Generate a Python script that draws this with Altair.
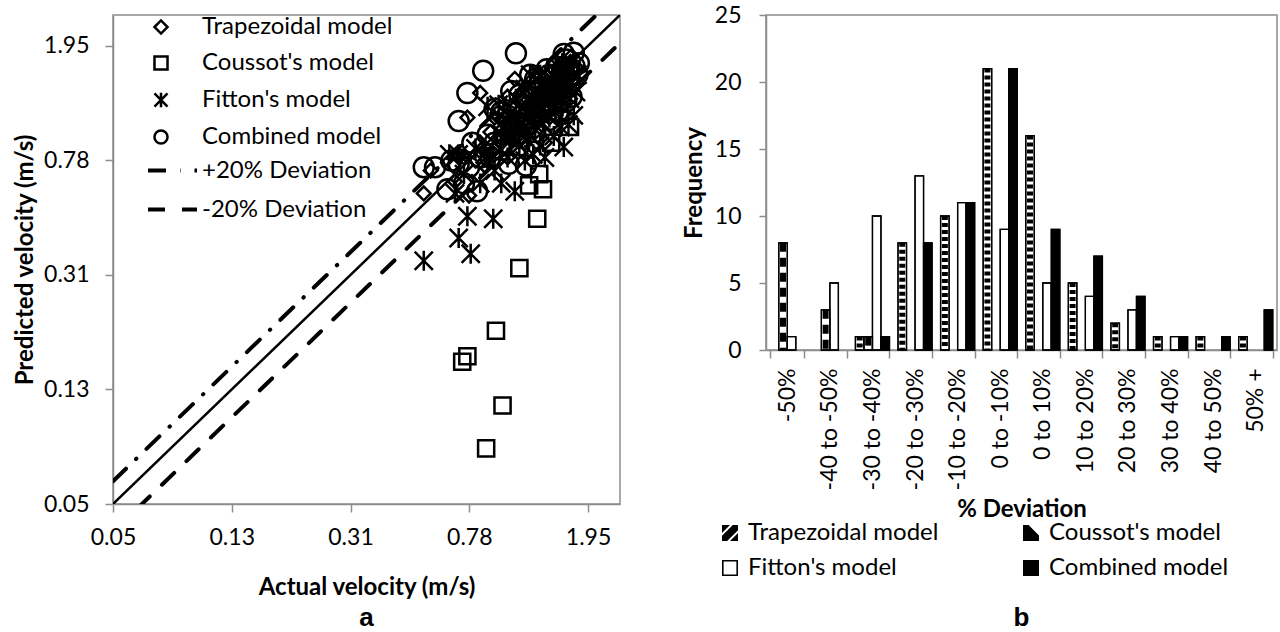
import altair as alt
import pandas as pd

FONT = "Lato"
GRAY = "#8c8c8c"

models = ["Trapezoidal model", "Coussot's model", "Fitton's model", "Combined model"]
marker_sizes = [190, 400, 170, 250]

# ---------------- panel a : (actual, predicted) velocity pairs ----------------
trap_points = [
    (1.40, 0.90),
    (0.78, 0.59), (1.30, 0.98), (1.52, 1.12), (1.60, 1.20), (1.20, 0.90), (1.45, 1.10), (1.70, 1.28), (1.05, 0.80),
    (0.95, 0.82), (1.10, 0.95), (1.25, 1.05), (1.35, 1.15), (1.48, 1.25), (1.55, 1.35), (1.65, 1.42), (1.75, 1.50),
    (0.88, 0.75), (1.18, 1.00),
    (0.70, 0.66), (0.82, 0.78), (0.90, 0.85), (0.98, 0.92), (1.02, 0.97), (1.08, 1.00), (1.12, 1.05), (1.15, 1.10),
    (1.22, 1.15), (1.28, 1.20), (1.32, 1.25), (1.38, 1.30), (1.42, 1.35), (1.50, 1.40), (1.55, 1.45), (1.60, 1.50),
    (1.68, 1.58), (1.72, 1.62), (1.78, 1.65), (1.25, 1.18), (1.45, 1.38),
    (0.55, 0.60), (0.69, 0.75), (0.75, 0.80), (0.85, 0.90), (0.92, 0.98), (1.00, 1.08), (1.05, 1.12), (1.10, 1.18),
    (1.18, 1.25), (1.25, 1.35), (1.30, 1.40), (1.40, 1.50), (1.48, 1.58), (1.55, 1.65), (1.62, 1.72), (1.72, 1.80),
    (0.72, 0.82), (0.95, 1.10), (1.15, 1.32), (1.35, 1.55), (1.50, 1.70),
    (0.58, 0.72), (1.05, 1.30),
    (1.11, 1.50),
    (0.77, 1.10),
    (0.85, 1.34),
]
coussot_points = [
    (1.32, 0.49), (1.15, 0.33), (0.96, 0.20), (0.77, 0.163), (0.74, 0.156), (1.01, 0.11),
    (0.89, 0.078), (1.34, 0.70), (1.38, 0.62), (1.24, 0.64), (1.70, 1.02), (1.47, 0.90),
]
fitton_points = [
    (0.79, 0.37),
    (0.72, 0.42), (0.94, 0.49), (1.11, 0.61), (1.62, 0.87), (1.40, 0.80),
    (0.55, 0.35), (0.77, 0.50), (1.68, 1.04), (1.20, 0.78), (1.35, 0.88), (1.50, 0.95), (1.00, 0.65), (1.28, 0.82),
    (1.58, 1.02), (1.75, 1.12),
    (0.85, 0.65), (1.05, 0.80), (1.15, 0.88), (1.22, 0.92), (1.30, 1.00), (1.38, 1.05), (1.45, 1.10), (1.52, 1.15),
    (1.60, 1.20), (1.70, 1.28), (1.78, 1.35), (0.95, 0.72), (1.25, 0.95),
    (0.70, 0.60), (0.90, 0.78), (1.00, 0.85), (1.10, 0.95), (1.18, 1.00), (1.28, 1.10), (1.35, 1.15), (1.45, 1.25),
    (1.55, 1.32), (1.65, 1.40), (1.80, 1.55),
    (0.75, 0.70), (0.88, 0.82), (1.02, 0.95), (1.15, 1.08), (1.25, 1.18), (1.40, 1.30), (1.50, 1.40), (1.62, 1.52),
    (1.72, 1.60),
    (0.82, 0.86), (1.05, 1.12), (1.30, 1.38), (1.48, 1.55), (1.60, 1.70),
    (0.72, 0.82), (1.12, 1.28), (1.35, 1.55), (1.20, 1.38),
    (0.67, 0.82), (0.98, 1.22), (1.25, 1.55),
    (0.90, 1.20),
]
combined_points = [
    (1.21, 0.75),
    (0.83, 0.61), (1.06, 0.76), (1.30, 0.98), (1.45, 1.08), (1.55, 1.15), (1.65, 1.25), (1.15, 0.88), (1.72, 1.30),
    (0.75, 0.65), (0.92, 0.80), (1.00, 0.85), (1.12, 0.95), (1.20, 1.02), (1.32, 1.12), (1.40, 1.20), (1.50, 1.28),
    (1.60, 1.38), (1.70, 1.45), (1.80, 1.55),
    (0.66, 0.62), (0.78, 0.74), (0.85, 0.80), (0.95, 0.90), (1.02, 0.96), (1.08, 1.02), (1.14, 1.06), (1.18, 1.12),
    (1.24, 1.16), (1.30, 1.22), (1.35, 1.28), (1.40, 1.32), (1.46, 1.36), (1.52, 1.42), (1.58, 1.50), (1.64, 1.54),
    (1.70, 1.60), (1.76, 1.66), (1.82, 1.70), (1.28, 1.20), (1.48, 1.40),
    (0.72, 0.76), (0.90, 0.96), (1.05, 1.12), (1.22, 1.30), (1.35, 1.45), (1.45, 1.55), (1.55, 1.65), (1.65, 1.75),
    (1.75, 1.85),
    (1.62, 1.83), (0.80, 0.90), (1.00, 1.15), (1.15, 1.32), (1.30, 1.50), (1.42, 1.62), (0.68, 0.78),
    (0.60, 0.74), (0.95, 1.18), (1.25, 1.55), (1.08, 1.36),
    (0.55, 0.74),
    (0.72, 1.07),
    (1.12, 1.84), (0.87, 1.60), (0.77, 1.34),
]

vel_ticks = [0.05, 0.125, 0.3125, 0.78125, 1.953125]
vel_domain = [0.05, 2.5]
ref_names = ["1:1 line", "+20% Deviation", "-20% Deviation"]
ref_factors = [1.0, 1.2, 0.8]
ref_x = [0.05, 2.5]

# ---------------- panel b : frequency of % deviation ----------------
cats = ["-50%", "-40 to -50%", "-30 to -40%", "-20 to -30%", "-10 to -20%", "0 to -10%",
        "0 to 10%", "10 to 20%", "20 to 30%", "30 to 40%", "40 to 50%", "50% +"]
trap_freq = [0, 0, 1, 8, 10, 21, 16, 5, 2, 1, 1, 1]
coussot_freq = [8, 3, 1, 0, 0, 0, 0, 0, 0, 0, 0, 0]
fitton_freq = [1, 5, 10, 13, 11, 9, 5, 4, 3, 1, 0, 0]
combined_freq = [0, 0, 1, 8, 11, 21, 9, 7, 4, 1, 1, 3]
freq_ticks = [0, 5, 10, 15, 20, 25]

# ---------------- tables ----------------
size_keys = ["size " + m for m in models]
rows = []
for m, sk, pts in zip(models, size_keys, [trap_points, coussot_points, fitton_points, combined_points]):
    for a, p in pts:
        rows.append({"model": m, "msize": sk, "actual": a, "predicted": p})
scatter_df = pd.DataFrame(rows)

ref_rows = []
for n, f in zip(ref_names, ref_factors):
    for xv in ref_x:
        ref_rows.append({"line": n, "factor": f, "actual": xv})
ref_df = pd.DataFrame(ref_rows)

bar_rows = []
for m, vals in zip(models, [trap_freq, coussot_freq, fitton_freq, combined_freq]):
    for c, v in zip(cats, vals):
        bar_rows.append({"cat": c, "model": m, "freq": v})
bar_df = pd.DataFrame(bar_rows)

axis_common = dict(
    labelFont=FONT, labelFontSize=23, labelColor="black", labelFlush=False,
    titleFont=FONT, titleFontSize=24, titleFontWeight="bold", titleColor="black",
    domainColor=GRAY, tickColor=GRAY, domainWidth=1.5, tickWidth=1.5, tickSize=8, grid=False,
)

vscale = alt.Scale(type="log", base=2.5, domain=vel_domain, nice=False)


def xenc():
    return alt.X("actual:Q", scale=vscale, title="Actual velocity (m/s)",
                 axis=alt.Axis(values=vel_ticks, format=".2f", labelPadding=14, titlePadding=26, **axis_common))


def yenc():
    return alt.Y("predicted:Q", scale=vscale, title="Predicted velocity (m/s)",
                 axis=alt.Axis(values=vel_ticks, format=".2f", labelPadding=16, titlePadding=6, **axis_common))


FITTON_PATH = "M-1,-1L1,1M-1,1L1,-1M0,-1.1L0,1.1"

line_base = alt.Chart(ref_df).transform_calculate(predicted="datum.actual * datum.factor")

diag = line_base.transform_filter("datum.line === '1:1 line'").mark_line(
    color="black", strokeWidth=2.5, clip=True
).encode(x=xenc(), y=yenc())

dev_lines = line_base.transform_filter("datum.line !== '1:1 line'").mark_line(
    color="black", strokeWidth=4, clip=True, strokeCap="round"
).encode(
    x=xenc(), y=yenc(),
    strokeDash=alt.StrokeDash(
        "line:N",
        scale=alt.Scale(domain=["+20% Deviation", "-20% Deviation"], range=[[18, 14, 0.5, 14], [17, 17]]),
        legend=alt.Legend(title=None, orient="none", legendX=33, legendY=129, padding=0,
                          labelFont=FONT, labelFontSize=24, labelColor="black", labelLimit=400,
                          symbolType="stroke", symbolSize=2401, symbolStrokeWidth=4,
                          symbolStrokeColor="black", labelOffset=3, rowPadding=-21),
    ),
)

points = alt.Chart(scatter_df).mark_point(filled=False, strokeWidth=2.5, color="black", opacity=1).encode(
    x=xenc(), y=yenc(),
    shape=alt.Shape(
        "model:N",
        scale=alt.Scale(domain=models, range=["diamond", "square", FITTON_PATH, "circle"]),
        legend=alt.Legend(title=None, orient="none", legendX=36, legendY=0, padding=0,
                          labelFont=FONT, labelFontSize=24, labelColor="black", labelLimit=400,
                          symbolSize=170, symbolStrokeWidth=2.5, symbolStrokeColor="black",
                          symbolFillColor="white", labelOffset=29, rowPadding=12),
    ),
    size=alt.Size("msize:N", scale=alt.Scale(domain=size_keys, range=marker_sizes), legend=None),
)

left = alt.layer(diag, dev_lines, points).properties(
    width=507, height=489,
    title=alt.TitleParams("a", orient="bottom", font="Liberation Sans", fontSize=26, fontWeight="bold",
                          color="black", frame="group", anchor="middle", offset=6),
)

# ---------------- right panel ----------------
T_PATH = ("M-1,-1L1,-1L1,1L-1,1Z"
          "M-1,0L-1,0.35L0.35,-1L0,-1Z"
          "M-0.35,1L0,1L1,0L1,-0.35Z")
C_PATH = "M-1,-1L1,-1L1,1L-1,1Z M-0.3,-1L1,0.3L1,-1Z"
F_PATH = "M-1,-1L1,-1L1,1L-1,1Z M-0.8,-0.8L-0.8,0.8L0.8,0.8L0.8,-0.8Z"

bar_base = alt.Chart(bar_df).transform_filter("datum.freq > 0").transform_calculate(zero="0")

xb = alt.X("cat:N", sort=cats, title="% Deviation",
           scale=alt.Scale(domain=cats, paddingInner=0.2, paddingOuter=0.1),
           axis=alt.Axis(labelAngle=-90, tickBand="extent", labelPadding=10, titlePadding=8,
                         labelLimit=300, **axis_common))
xo = alt.XOffset("model:N", sort=models, scale=alt.Scale(domain=models, paddingInner=0, paddingOuter=0))
yb = alt.Y("freq:Q", title="Frequency", scale=alt.Scale(domain=[0, 25], nice=False),
           axis=alt.Axis(values=freq_ticks, labelPadding=18, titlePadding=8, **{**axis_common, "tickSize": 7}))

bars = bar_base.mark_bar(stroke="black", strokeWidth=1.3).encode(
    x=xb, xOffset=xo, y=yb,
    fill=alt.condition("datum.model === 'Combined model'", alt.value("black"), alt.value("white")),
)

hatch_t = bar_base.transform_filter("datum.model === 'Trapezoidal model'").mark_rule(
    color="black", strokeWidth=6, strokeDash=[4, 3]
).encode(x=xb, xOffset=xo, y=yb, y2="zero:Q")

hatch_c = bar_base.transform_filter("datum.model === \"Coussot's model\"").mark_rule(
    color="black", strokeWidth=6, strokeDash=[9, 6]
).encode(x=xb, xOffset=xo, y=yb, y2="zero:Q")

outline = bar_base.mark_bar(fillOpacity=0, stroke="black", strokeWidth=1.3).encode(x=xb, xOffset=xo, y=yb)

leg_props = dict(title=None, orient="none", legendX=-48, legendY=506, padding=0, columns=2,
                 direction="horizontal", columnPadding=80, rowPadding=11,
                 labelFont=FONT, labelFontSize=24, labelColor="black",
                 labelLimit=400, symbolSize=256, symbolOpacity=1, labelOffset=6)

legend_layer = bar_base.mark_point(opacity=0, filled=True).encode(
    x=xb, xOffset=xo, y=yb,
    fill=alt.Fill("model:N", scale=alt.Scale(domain=models, range=["black", "black", "black", "black"]),
                  legend=alt.Legend(**leg_props)),
    shape=alt.Shape("model:N", scale=alt.Scale(domain=models, range=[T_PATH, C_PATH, F_PATH, "square"]),
                    legend=alt.Legend(**leg_props)),
)

right = alt.layer(bars, hatch_t, hatch_c, outline, legend_layer).properties(
    width=511, height=335,
    title=alt.TitleParams("b", orient="bottom", font="Liberation Sans", fontSize=26, fontWeight="bold",
                          color="black", frame="group", anchor="middle", offset=25),
)

chart = alt.hconcat(left, right, spacing=60).resolve_scale(
    shape="independent", fill="independent", size="independent", strokeDash="independent"
).resolve_legend(
    shape="independent", fill="independent", size="independent", strokeDash="independent"
).properties(
    padding={"left": 12, "top": 3, "right": 0, "bottom": 0}
).configure_view(stroke=GRAY, strokeWidth=1.5)

chart.save("out.html", embed_options={"renderer": "svg", "actions": False})
